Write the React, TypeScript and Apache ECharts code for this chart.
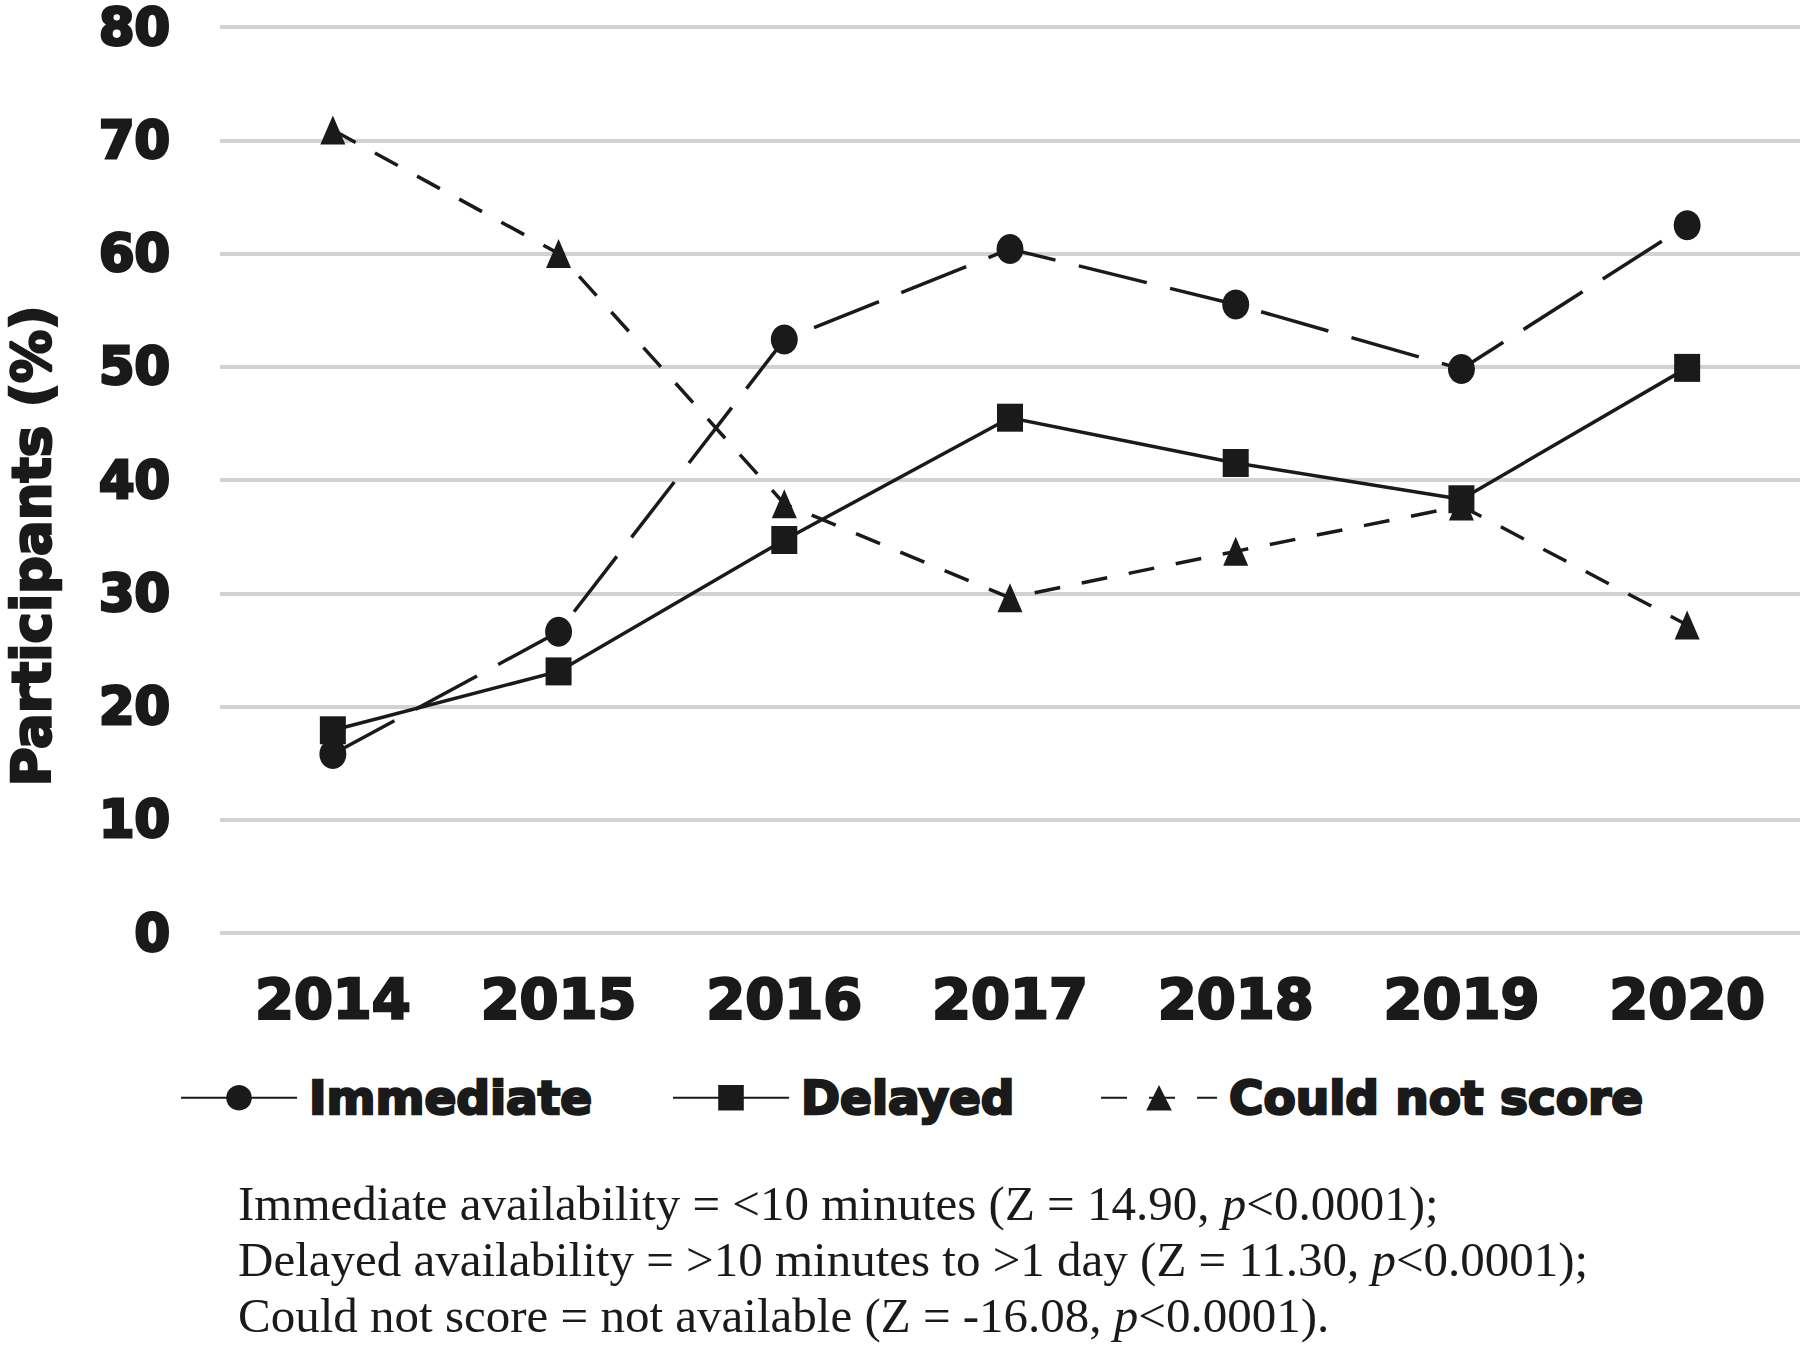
import React, { useEffect, useRef } from "react";
import * as echarts from "echarts";

const years = ["2014", "2015", "2016", "2017", "2018", "2019", "2020"];
const immediate = [15.8, 26.6, 52.4, 60.4, 55.5, 49.8, 62.5];
const delayed = [17.9, 23.1, 34.7, 45.5, 41.5, 38.3, 49.9];
const couldNotScore = [70.9, 60.0, 37.9, 29.6, 33.7, 37.7, 27.2];
const seriesNames = ["Immediate", "Delayed", "Could not score"];
const yAxisName = "Participants (%)";
const footnotes = [
  ["Immediate availability = <10 minutes (Z = 14.90, ", "p", "<0.0001);"],
  ["Delayed availability = >10 minutes to >1 day (Z = 11.30, ", "p", "<0.0001);"],
  ["Could not score = not available (Z = -16.08, ", "p", "<0.0001)."],
];

const HEAVY = "'DejaVu Sans', sans-serif";
const SERIF = "'Liberation Serif', 'DejaVu Serif', serif";
const INK = "#1a1a1a";

export default function App() {
  const ref = useRef<HTMLDivElement>(null);
  useEffect(() => {
    document.body.style.margin = "0";
    if (!ref.current) return;
    const chart = echarts.init(ref.current, undefined, { renderer: "svg" });
    const lw = 3.5;
    const heavyText = (size: number, border: number) => ({
      fontFamily: HEAVY,
      fontWeight: "bold",
      fontSize: size,
      color: INK,
      textBorderColor: INK,
      textBorderWidth: border,
    });
    const legendLefts = [175, 667, 1095];
    chart.setOption({
      animation: false,
      backgroundColor: "#ffffff",
      grid: { left: 220, right: 0, top: 22, bottom: 414, containLabel: false },
      xAxis: {
        type: "category",
        data: years,
        boundaryGap: true,
        axisLine: { show: false },
        axisTick: { show: false },
        axisLabel: { margin: 37, ...heavyText(56, 2.5) },
      },
      yAxis: {
        type: "value",
        min: 0,
        max: 80,
        interval: 10,
        axisLine: { show: false },
        axisTick: { show: false },
        splitLine: { lineStyle: { color: "#d2d2d2", width: 4 } },
        axisLabel: { margin: 50, lineHeight: 40, ...heavyText(51, 3) },
      },
      legend: seriesNames.map((name, i) => ({
        left: legendLefts[i],
        top: 1068,
        itemWidth: 116,
        itemHeight: 32,
        textStyle: { ...heavyText(47, 2.5), padding: [0, 0, 0, 7] },
        data: [{ name, lineStyle: i === 2 ? undefined : { type: "solid" } }],
      })),
      series: [
        {
          name: seriesNames[0],
          type: "line",
          data: immediate,
          z: 3,
          symbol: "circle",
          symbolSize: [27, 30],
          itemStyle: { color: INK },
          lineStyle: { color: INK, width: lw, type: [70, 24] },
        },
        {
          name: seriesNames[1],
          type: "line",
          data: delayed,
          z: 4,
          symbol: "rect",
          symbolSize: [26, 28],
          itemStyle: { color: INK },
          lineStyle: { color: INK, width: lw, type: "solid" },
        },
        {
          name: seriesNames[2],
          type: "line",
          data: couldNotScore,
          z: 2,
          symbol: "triangle",
          symbolSize: [25, 29],
          itemStyle: { color: INK },
          lineStyle: { color: INK, width: lw, type: [26, 22] },
        },
      ],
      graphic: [
        {
          type: "text",
          x: 31,
          y: 546,
          rotation: Math.PI / 2,
          style: {
            text: yAxisName,
            font: `bold 53px ${HEAVY}`,
            fill: INK,
            stroke: INK,
            lineWidth: 2.5,
            align: "center",
            verticalAlign: "middle",
          },
        },
        ...footnotes.map((parts, i) => ({
          type: "text",
          x: 238,
          y: 1203 + i * 56,
          style: {
            text: `{n|${parts[0]}}{i|${parts[1]}}{n|${parts[2]}}`,
            verticalAlign: "middle",
            align: "left",
            rich: {
              n: { fontFamily: SERIF, fontSize: 49, fill: INK, color: INK },
              i: { fontFamily: SERIF, fontSize: 49, fontStyle: "italic", fill: INK, color: INK },
            },
          },
        })),
      ],
    });
    return () => chart.dispose();
  }, []);
  return <div ref={ref} style={{ width: 1800, height: 1347 }} />;
}
